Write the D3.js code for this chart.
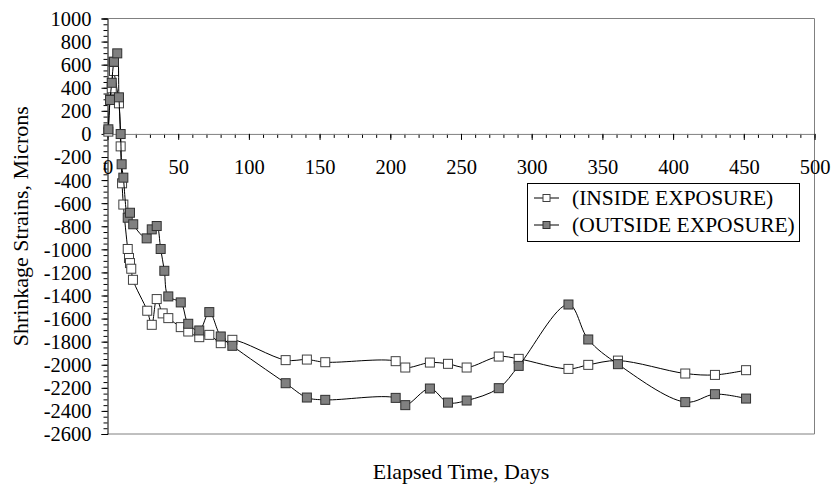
<!DOCTYPE html>
<meta charset="utf-8">
<head>
<style>
body { margin: 0; background: #fff; }
text { font-family: "Liberation Serif", "Times New Roman", serif; }
</style>
</head>
<body>
<div id="chart"></div>
<script src="https://d3js.org/d3.v7.min.js"></script>
<script>

// data (days, microns)
var insideDays = [0.6, 1.8, 3, 4.1, 4.6, 8.1, 9.3, 10.3, 11.2, 14.3, 15.2, 15.9, 16.8, 18, 28.1,
  31.3, 34.8, 39, 43, 51.8, 57.1, 64.9, 72, 80.1, 88.3, 126, 141, 154, 203.8, 210.6,
  228, 240.8, 254, 276.7, 290.8, 326, 340, 361, 408.6, 429.6, 451.6];
var insideStrain = [20, 300, 395, 625, 545, 265, -108, -428, -612, -997, -1075, -1119, -1168, -1264, -1532,
  -1654, -1431, -1555, -1596, -1674, -1712, -1761, -1741, -1813, -1784, -1960, -1955, -1978, -1969, -2024,
  -1981, -1992, -2024, -1929, -1949, -2036, -2001, -1964, -2076, -2088, -2047];

var outsideDays = [0.6, 1.8, 3, 4.6, 6.9, 8.1, 9.3, 10, 11.2, 14.3, 15.9, 18.2, 27.7, 31.3, 34.8,
  37.6, 40.2, 43, 51.8, 57.1, 64.9, 72, 80.1, 88.3, 126, 141, 154, 203.8, 210.6, 228,
  240.8, 254, 276.7, 290.8, 326, 340, 361, 408.6, 429.6, 451.6];
var outsideStrain = [40, 294, 443, 625, 698, 317, -1, -263, -379, -726, -683, -783, -905, -827, -798,
  -997, -1186, -1408, -1460, -1645, -1703, -1544, -1755, -1836, -2160, -2284, -2304, -2287, -2350, -2206,
  -2328, -2310, -2203, -2010, -1478, -1781, -1995, -2324, -2255, -2293];

var seriesNames = ["(INSIDE EXPOSURE)", "(OUTSIDE EXPOSURE)"];
var xTickValues = [0, 50, 100, 150, 200, 250, 300, 350, 400, 450, 500];
var yTickValues = [1000, 800, 600, 400, 200, 0, -200, -400, -600, -800, -1000, -1200,
  -1400, -1600, -1800, -2000, -2200, -2400, -2600];

var W = 833, H = 486;
var pLeft = 107.5, pRight = 814.5, pTop = 18.5, pBottom = 434;

var svg = d3.select("#chart").append("svg")
  .attr("width", W)
  .attr("height", H);

var x = d3.scaleLinear().domain([0, 500]).range([pLeft, pRight]);
var y = d3.scaleLinear().domain([-2600, 1000]).range([pBottom, pTop]);

// plain labels with an ascii minus, no thousands separator
var plain = function(d) { return String(d); };

// plot area frame (top, right, bottom)
svg.append("path")
  .attr("d", "M" + pLeft + "," + pTop + "H" + pRight + "V" + pBottom + "H" + pLeft)
  .attr("fill", "none")
  .attr("stroke", "#808080")
  .attr("stroke-width", 1);

// y axis, minor ticks every 50
svg.append("g")
  .attr("transform", "translate(" + pLeft + ",0)")
  .call(d3.axisLeft(y).tickValues(d3.range(-2600, 1001, 50)).tickSize(4).tickFormat(""))
  .call(function(g) { g.select(".domain").remove(); });

var yAxis = svg.append("g")
  .attr("transform", "translate(" + pLeft + ",0)")
  .call(d3.axisLeft(y).tickValues(yTickValues).tickSize(6).tickPadding(10).tickFormat(plain));
yAxis.select(".domain").attr("stroke", "#000");
yAxis.selectAll("text")
  .attr("font-size", "20.5px")
  .attr("fill", "#000")
  .attr("dy", "0.34em");

// x axis sits on zero
svg.append("g")
  .attr("transform", "translate(0," + y(0) + ")")
  .call(d3.axisBottom(x).tickValues(d3.range(0, 501, 10)).tickSize(4).tickFormat(""))
  .call(function(g) { g.select(".domain").remove(); });

var xAxis = svg.append("g")
  .attr("transform", "translate(0," + y(0) + ")")
  .call(d3.axisBottom(x).tickValues(xTickValues).tickSize(6).tickPadding(20).tickFormat(plain));
xAxis.select(".domain").attr("stroke", "#808080");
xAxis.selectAll("text")
  .attr("font-size", "20.5px")
  .attr("fill", "#000");

// axis titles
svg.append("text")
  .attr("x", (pLeft + pRight) / 2)
  .attr("y", 479)
  .attr("text-anchor", "middle")
  .attr("font-size", "22px")
  .text("Elapsed Time, Days");

svg.append("text")
  .attr("transform", "translate(28," + (pTop + pBottom) / 2 + ") rotate(-90)")
  .attr("text-anchor", "middle")
  .attr("font-size", "22px")
  .text("Shrinkage Strains, Microns");

// series
var series = [
  { days: insideDays, vals: insideStrain, fill: "#ffffff", stroke: "#404040" },
  { days: outsideDays, vals: outsideStrain, fill: "#808080", stroke: "#303030" }
];

var line = d3.line()
  .x(function(d) { return x(d[0]); })
  .y(function(d) { return y(d[1]); })
  .curve(d3.curveCatmullRom.alpha(0.5));

var ms = 9;
series.forEach(function(s) {
  var pts = s.days.map(function(d, i) { return [d, s.vals[i]]; });
  svg.append("path")
    .datum(pts)
    .attr("d", line)
    .attr("fill", "none")
    .attr("stroke", "#000")
    .attr("stroke-width", 1);
  svg.selectAll(null)
    .data(pts)
    .enter()
    .append("rect")
      .attr("x", function(d) { return x(d[0]) - ms / 2; })
      .attr("y", function(d) { return y(d[1]) - ms / 2; })
      .attr("width", ms)
      .attr("height", ms)
      .attr("fill", s.fill)
      .attr("stroke", s.stroke)
      .attr("stroke-width", 1);
});

// legend
var legend = svg.append("g");
legend.append("rect")
  .attr("x", 527.5)
  .attr("y", 183.5)
  .attr("width", 272)
  .attr("height", 58)
  .attr("fill", "#fff")
  .attr("stroke", "#000");

seriesNames.forEach(function(name, i) {
  var ly = 198 + i * 27;
  legend.append("line")
    .attr("x1", 534).attr("x2", 559)
    .attr("y1", ly).attr("y2", ly)
    .attr("stroke", "#000");
  legend.append("rect")
    .attr("x", 546.5 - 3.5).attr("y", ly - 3.5)
    .attr("width", 7).attr("height", 7)
    .attr("fill", series[i].fill)
    .attr("stroke", series[i].stroke);
  legend.append("text")
    .attr("x", 572)
    .attr("y", ly + 7)
    .attr("font-size", "21.5px")
    .text(name);
});

</script>
</body>
